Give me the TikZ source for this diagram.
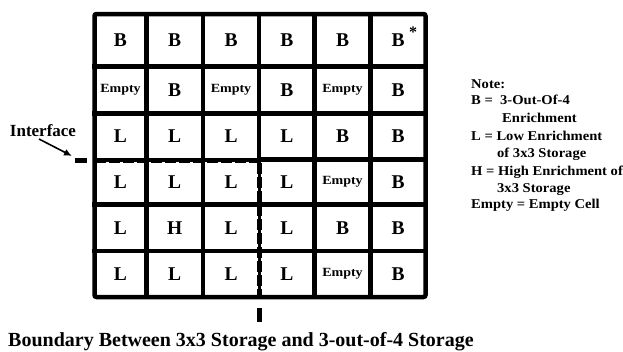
\documentclass[tikz,border=0pt]{standalone}
\usepackage{fontspec}
\setmainfont{Liberation Serif}
\newfontfamily\wfont[FakeStretch=1.08]{Liberation Serif}
\newfontfamily\efont[FakeStretch=1.12]{Liberation Serif}
\usetikzlibrary{arrows.meta}
\begin{document}
\begin{tikzpicture}[x=1pt,y=-1pt,
  gridline/.style={line width=4.5pt,line cap=rect},
  ifthin/.style={line width=3.2pt},
  ifnotch/.style={line width=5pt,dash pattern=on 11pt off 3pt},
  ifstub/.style={line width=5pt},
  big/.style={font=\fontsize{19.5}{19.5}\selectfont\bfseries,inner sep=0pt},
  small/.style={font=\efont\fontsize{12.5}{12.5}\selectfont\bfseries,inner sep=0pt},
  legend/.style={font=\wfont\fontsize{13.5}{13.5}\selectfont\bfseries,inner sep=0pt,anchor=base west}]
\useasboundingbox (0,0) rectangle (623,351);
% grid lines
\draw[line width=4.5pt,rounded corners=2pt] (94.5,14) rectangle (425.5,297);
\foreach \x in {146.5,203,314.5,370.5} \draw[gridline] (\x,14) -- (\x,297);
\draw[gridline] (259,14) -- (259,159.5);
\foreach \y in {66.5,113.5,204.5,251} \draw[gridline] (94.5,\y) -- (425.5,\y);
\draw[gridline] (259,159.5) -- (425.5,159.5);
% interface boundary
\coordinate (b0) at (75,160);
\coordinate (b0e) at (87,160);
\coordinate (g0) at (94.5,160);
\coordinate (b1) at (259.5,160);
\coordinate (g2) at (259.5,297);
\coordinate (b2s) at (259.5,308);
\coordinate (b2) at (259.5,322);
\draw[ifstub] (b0) -- (b0e);
\draw[ifthin] (g0) -- (b1) -- (g2);
\draw[ifnotch] (g0) -- (b1) -- (g2);
\draw[ifstub] (b2s) -- (b2);
% cell labels
\foreach \r/\y in {1/40.25,2/90,3/136.5,4/182,5/227.75,6/274}{
  \foreach \c/\x in {1/120.5,2/174.75,3/231,4/286.75,5/342.5,6/398}{
    \coordinate (p\r\c) at (\x,\y);
  }
}
\foreach \r/\c/\t/\s in {1/1/B/big,1/2/B/big,1/3/B/big,1/4/B/big,1/5/B/big,1/6/B/big,
  2/1/Empty/small,2/2/B/big,2/3/Empty/small,2/4/B/big,2/5/Empty/small,2/6/B/big,
  3/1/L/big,3/2/L/big,3/3/L/big,3/4/L/big,3/5/B/big,3/6/B/big,
  4/1/L/big,4/2/L/big,4/3/L/big,4/4/L/big,4/5/Empty/small,4/6/B/big,
  5/1/L/big,5/2/H/big,5/3/L/big,5/4/L/big,5/5/B/big,5/6/B/big,
  6/1/L/big,6/2/L/big,6/3/L/big,6/4/L/big,6/5/Empty/small,6/6/B/big}{
  \node[\s] (c\r\c) at (p\r\c) {\t};
}
\node[font=\fontsize{16}{16}\selectfont\bfseries,inner sep=0pt] (star) at (413,32) {*};
% interface label
\node[font=\fontsize{17}{17}\selectfont\bfseries,inner sep=0pt] (ilabel) at (43,131) {Interface};
\coordinate (itip) at (72,156);
\draw[line width=1.6pt,-{Latex[length=8pt,width=7pt]}] (39,139) -- (itip);
% legend
\node[legend] (l1) at (471,88) {Note:};
\node[legend] (l2) at (471,104) {B =\ \ 3-Out-Of-4};
\node[legend] (l3) at (502,122) {Enrichment};
\node[legend] (l4) at (471,140) {L = Low Enrichment};
\node[legend] (l5) at (497,157) {of 3x3 Storage};
\node[legend] (l6) at (471,175) {H = High Enrichment of};
\node[legend] (l7) at (497,192) {3x3 Storage};
\node[legend] (l8) at (471,208) {Empty = Empty Cell};
% title
\node[font=\fontsize{20}{20}\selectfont\bfseries,inner sep=0pt,anchor=base west] (title) at (8,346) {Boundary Between 3x3 Storage and 3-out-of-4 Storage};
\end{tikzpicture}
\end{document}
